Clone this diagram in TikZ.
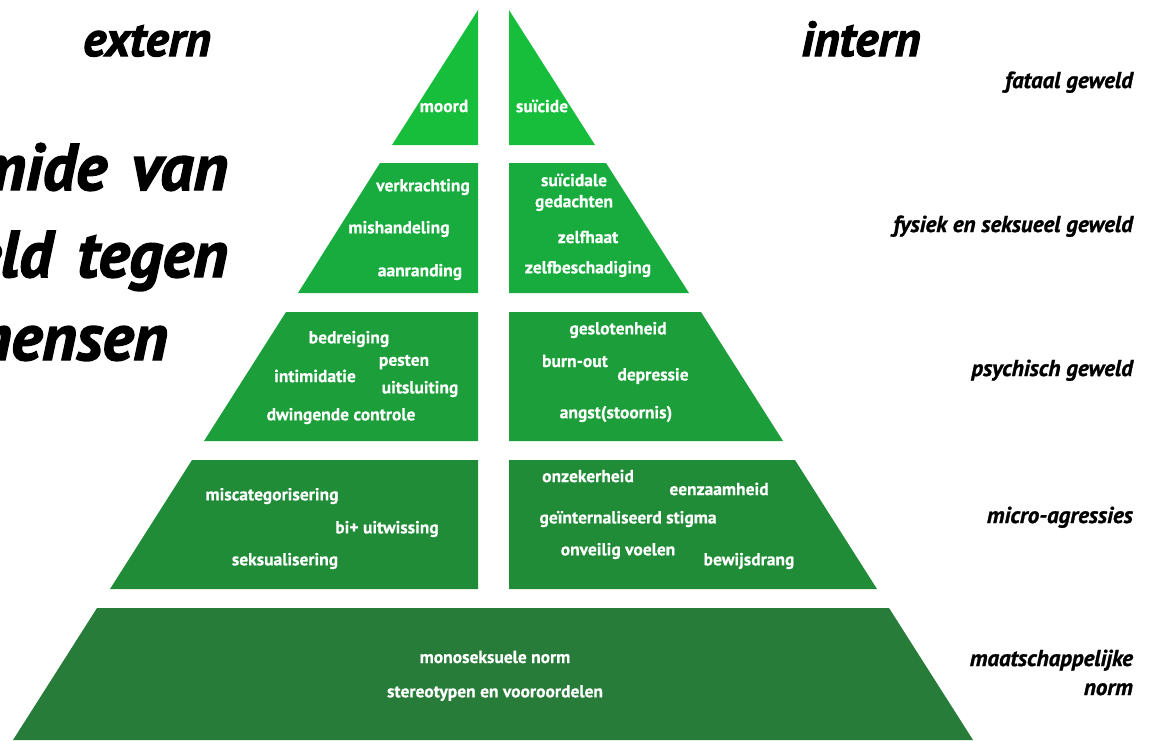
\documentclass[tikz,border=0pt]{standalone}
\usepackage{fontspec}
\setmainfont{PT Sans}
\newfontfamily\heavyfont[FakeBold=2.2, WordSpace=1.5]{PT Sans}
\newfontfamily\levelfont[FakeBold=1.2]{PT Sans}
\newfontfamily\labelfont[FakeBold=0.4]{PT Sans}
\usetikzlibrary{positioning}
\definecolor{tierA}{HTML}{16BE3B}
\definecolor{tierB}{HTML}{17AC3D}
\definecolor{tierC}{HTML}{1C9E3A}
\definecolor{tierD}{HTML}{218C38}
\definecolor{tierE}{HTML}{287C39}
\begin{document}
\begin{tikzpicture}[x=1pt, y=-1pt,
    wlabel/.style={text=white, inner sep=0pt, font=\labelfont\fontsize{17.5}{20}\selectfont\bfseries},
    level/.style={anchor=base east, inner sep=0pt, font=\levelfont\fontsize{23}{27}\selectfont\bfseries\itshape},
    head/.style={anchor=base, inner sep=0pt, font=\heavyfont\fontsize{49}{58}\selectfont\bfseries\itshape},
    bigtitle/.style={anchor=base east, inner sep=0pt, font=\heavyfont\fontsize{66}{78}\selectfont\bfseries\itshape}]

  \useasboundingbox (0,0) rectangle (1149,740);

  % pyramid tiers
  \fill[tierA] (478,10) -- (478,145) -- (392,145) -- cycle;
  \fill[tierA] (509,10) -- (595,145) -- (509,145) -- cycle;
  \fill[tierB] (380,163) -- (478,163) -- (478,293) -- (298,293) -- cycle;
  \fill[tierB] (509,163) -- (606,163) -- (689,293) -- (509,293) -- cycle;
  \fill[tierC] (286,312) -- (478,312) -- (478,441) -- (204,441) -- cycle;
  \fill[tierC] (509,312) -- (701,312) -- (783,441) -- (509,441) -- cycle;
  \fill[tierD] (192,460) -- (478,460) -- (478,589) -- (110,589) -- cycle;
  \fill[tierD] (509,460) -- (795,460) -- (877,589) -- (509,589) -- cycle;
  \fill[tierE] (97,608) -- (889,608) -- (973,740) -- (13,740) -- cycle;

  % title
  \node[bigtitle] (t1) at (228,190) {Piramide van};
  \node[bigtitle] (t2) at (228,277) {geweld tegen};
  \node[bigtitle] (t3) at (168,360) {bi+ mensen};

  \node[head] (extern) at (147,56) {extern};
  \node[head] (intern) at (861,56) {intern};

  % levels
  \node[level] (fataal) at (1133,88) {fataal geweld};
  \node[level] (fysiek) at (1133,232) {fysiek en seksueel geweld};
  \node[level] (psychisch) at (1133,376) {psychisch geweld};
  \node[level] (micro) at (1133,523) {micro-agressies};
  \node[level] (maatsch) at (1133,666) {maatschappelijke};
  \node[level] (norm) at (1133,695) {norm};

  % top
  \node[wlabel] (moord) at (444,106) {moord};
  \node[wlabel] (suicide) at (542,106) {suïcide};

  % fysiek
  \node[wlabel] (verkr) at (423,187) {verkrachting};
  \node[wlabel] (mishand) at (399,229) {mishandeling};
  \node[wlabel] (aanr) at (420,272) {aanranding};
  \node[wlabel] (suicidaal) at (574,180) {suïcidale};
  \node[wlabel] (gedacht) at (574,203) {gedachten};
  \node[wlabel] (zelfhaat) at (588,237) {zelfhaat};
  \node[wlabel] (zelfbesch) at (588,269) {zelfbeschadiging};

  % psychisch
  \node[wlabel] (bedr) at (349,339) {bedreiging};
  \node[wlabel] (pesten) at (404,362) {pesten};
  \node[wlabel] (intim) at (315,376) {intimidatie};
  \node[wlabel] (uitsl) at (420,389) {uitsluiting};
  \node[wlabel] (dwing) at (341,416) {dwingende controle};
  \node[wlabel] (geslot) at (618,330) {geslotenheid};
  \node[wlabel] (burnout) at (575,361) {burn-out};
  \node[wlabel] (depr) at (653,376) {depressie};
  \node[wlabel] (angst) at (616,414) {angst(stoornis)};

  % micro
  \node[wlabel] (miscat) at (272,496) {miscategorisering};
  \node[wlabel] (uitwis) at (387,529) {bi+ uitwissing};
  \node[wlabel] (seksual) at (285,561) {seksualisering};
  \node[wlabel] (onzeker) at (588,476) {onzekerheid};
  \node[wlabel] (eenzaam) at (719,489) {eenzaamheid};
  \node[wlabel] (stigma) at (628,519) {geïnternaliseerd stigma};
  \node[wlabel] (onveilig) at (618,551) {onveilig voelen};
  \node[wlabel] (bewijs) at (749,561) {bewijsdrang};

  % norm
  \node[wlabel] (mono) at (495,657) {monoseksuele norm};
  \node[wlabel] (stereo) at (495,693) {stereotypen en vooroordelen};

\end{tikzpicture}
\end{document}
